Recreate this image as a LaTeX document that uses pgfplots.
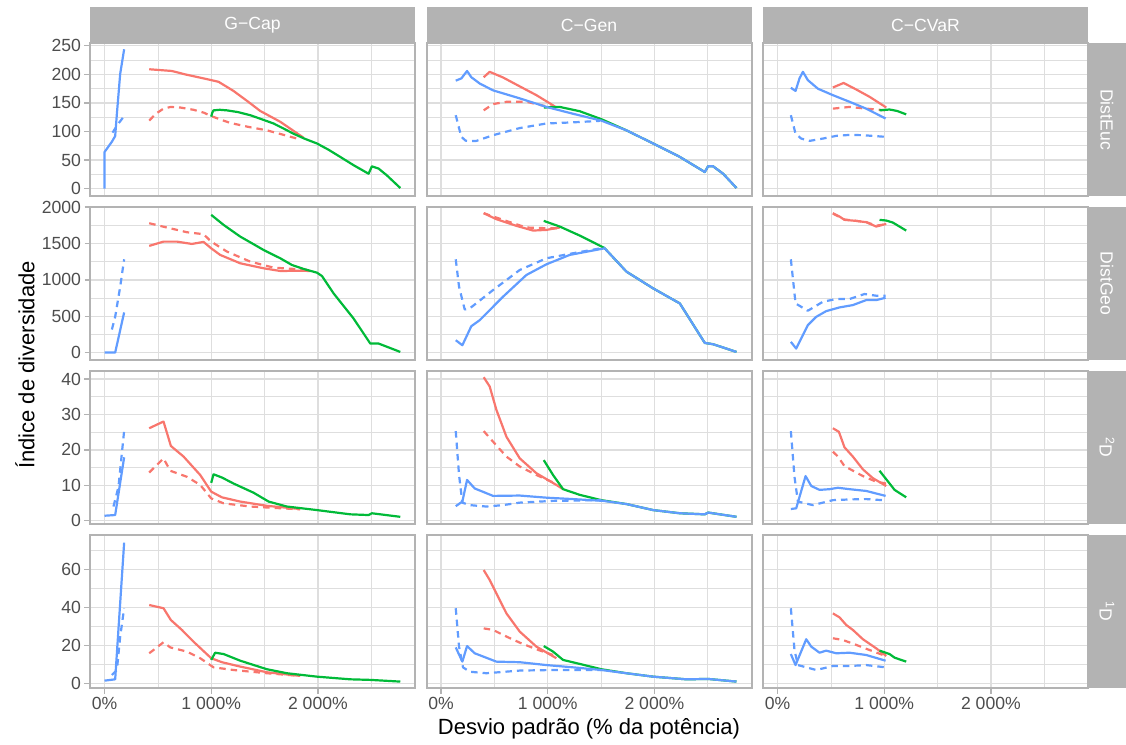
\documentclass[border=0pt]{standalone}
\usepackage{pgfplots}
\pgfplotsset{compat=1.18}
\usepackage{fontspec}
\setmainfont{Liberation Sans}

\definecolor{gA}{HTML}{F8766D}
\definecolor{gB}{HTML}{00BA38}
\definecolor{gC}{HTML}{619CFF}
\definecolor{grid87}{HTML}{DEDEDE}
\definecolor{grey70}{HTML}{B3B3B3}
\definecolor{grey30}{HTML}{4D4D4D}

\pgfplotsset{
  facet/.style={
    scale only axis, width=325pt, height=153pt, anchor=south west,
    xmin=-136, xmax=2910,
    xtick={0,1000,2000}, minor xtick={500,1500,2500},
    xticklabels={0\%,1 000\%,2 000\%},
    grid=both,
    major grid style={draw=grid87, line width=1.3pt},
    minor grid style={draw=grid87, line width=0.7pt},
    axis line style={draw=grey70, line width=2pt},
    tick align=outside, tick pos=left,
    major tick length=5.5pt, minor tick length=0pt,
    tick style={draw=grey70, line width=1.3pt},
    ticklabel style={font=\fontsize{17.6}{20}\selectfont, text=grey30},
    /pgf/number format/assume math mode=true,
    /pgf/number format/1000 sep={},
    every axis plot/.append style={line width=2.2pt, line join=round, line cap=butt},
  },
  noxt/.style={xticklabels={}, xtick style={draw=none}},
  noyt/.style={yticklabels={}, ytick style={draw=none}},
  rowA/.style={ymin=-13, ymax=255, ytick={0,50,...,250}, minor ytick={25,75,...,225}},
  rowB/.style={ymin=-102, ymax=2002, ytick={0,500,...,2000}, minor ytick={250,750,...,1750}},
  rowC/.style={ymin=-0.93, ymax=42.26, ytick={0,10,...,40}, minor ytick={5,15,...,35}},
  rowD/.style={ymin=-2.47, ymax=78.05, ytick={0,20,...,60}, minor ytick={10,30,...,70}},
  rs/.style={draw=gA},
  rd/.style={draw=gA, dash pattern=on 6.5pt off 5pt},
  gs/.style={draw=gB},
  bs/.style={draw=gC},
  bd/.style={draw=gC, dash pattern=on 6.5pt off 5pt},
}

\begin{document}
\begin{tikzpicture}[x=1pt,y=1pt]
\useasboundingbox (0,0) rectangle (1126,744);

% ---------------- row 1: DistEuc ----------------
\begin{axis}[facet, rowA, noxt, at={(90pt,548pt)}]
\addplot[rs] coordinates {(419,209)(631,206)(756,200)(928,193)(1000,190)(1069,187)(1209,171)(1340,153)(1459,136)(1647,117)(1866,89)};
\addplot[rd] coordinates {(419,119)(480,131)(553,140)(620,143)(709,142)(834,138)(930,133)(1000,127)(1100,120)(1178,115)(1350,108)(1522,102)(1700,93)(1834,86)};
\addplot[gs] coordinates {(1000,126)(1010,133)(1022,137)(1080,138)(1147,137)(1250,134)(1366,128.5)(1480,121)(1584,114)(1680,105)(1772,96)(1880,87)(1991,79)(2100,68)(2209,55.5)(2334,41)(2475,26)(2506,39)(2569,35)(2647,23)(2772,1)};
\addplot[bs] coordinates {(0,0)(0,64)(69,82)(100,92)(116,131)(147,201)(184,244)};
\addplot[bd] coordinates {(75,98)(131,114)(184,127)};
\end{axis}

\begin{axis}[facet, rowA, noxt, noyt, at={(426.5pt,548pt)}]
\addplot[rs] coordinates {(400,195)(456,204.5)(581,194.6)(738,179)(894,163.6)(1066,144)};
\addplot[rd] coordinates {(400,137)(488,148)(613,152)(800,152)(988,144)(1081,143)};
\addplot[gs] coordinates {(963,142)(1113,143)(1300,135.5)(1503,121.5)(1738,102)(1988,79)(2238,55.5)(2472,29)(2503,39)(2550,39)(2644,26)(2769,1)};
\addplot[bs] coordinates {(138,189)(191,193)(244,206)(284,195)(363,184)(488,172)(738,158)(988,143)(1238,131)(1503,119)(1738,102)(1988,79)(2238,55.5)(2472,29)(2503,39)(2550,39)(2644,26)(2769,1)};
\addplot[bd] coordinates {(138,128.5)(170,105)(191,90.6)(230,84)(269,83)(331,83.5)(488,93.5)(738,106)(988,114)(1238,116)(1488,118.6)};
\end{axis}

\begin{axis}[facet, rowA, noxt, noyt, at={(763pt,548pt)}]
\addplot[rs] coordinates {(519,177)(619,185)(738,173.5)(863,160.7)(1019,142)};
\addplot[rd] coordinates {(519,140)(675,143)(831,140)(1019,137)};
\addplot[gs] coordinates {(956,137)(1050,138.5)(1120,136)(1206,130)};
\addplot[bs] coordinates {(125,176.5)(169,171)(206,193)(238,204.5)(284,190)(378,175)(519,163.6)(675,152)(831,140)(1013,122.7)};
\addplot[bd] coordinates {(125,128.5)(150,110)(169,96)(222,87.6)(300,83.5)(425,87.6)(550,92.3)(675,94)(800,93.5)(1013,90.6)};
\end{axis}

% ---------------- row 2: DistGeo ----------------
\begin{axis}[facet, rowB, noxt, at={(90pt,384pt)}]
\addplot[rs] coordinates {(419,1467)(553,1526)(678,1526)(819,1494)(928,1522)(1000,1434)(1084,1343)(1272,1228)(1491,1159)(1647,1122)(1866,1126)(1930,1120)};
\addplot[rd] coordinates {(419,1779)(584,1720)(772,1655)(928,1628)(1000,1526)(1147,1389)(1366,1251)(1584,1168)(1928,1136)};
\addplot[gs] coordinates {(1000,1894)(1116,1756)(1272,1595)(1491,1411)(1647,1297)(1756,1205)(1866,1150)(1991,1099)(2038,1053)(2147,814)(2334,469)(2491,124)(2569,124)(2772,9)};
\addplot[bs] coordinates {(0,0)(100,0)(184,552)};
\addplot[bd] coordinates {(69,317)(100,492)(147,906)(184,1283)};
\end{axis}

\begin{axis}[facet, rowB, noxt, noyt, at={(426.5pt,384pt)}]
\addplot[rs] coordinates {(400,1917)(519,1834)(706,1743)(863,1678)(988,1687)(1113,1720)};
\addplot[rd] coordinates {(400,1917)(581,1825)(800,1720)(988,1710)(1113,1710)};
\addplot[gs] coordinates {(963,1811)(1113,1733)(1300,1609)(1519,1448)(1534,1434)(1738,1113)(1988,883)(2238,676)(2472,133)(2550,115)(2769,9)};
\addplot[bs] coordinates {(138,170)(200,101)(284,363)(363,446)(581,768)(800,1067)(988,1214)(1206,1343)(1534,1434)(1738,1113)(1988,883)(2238,676)(2472,133)(2550,115)(2769,9)};
\addplot[bd] coordinates {(138,1283)(169,906)(222,593)(269,607)(488,860)(738,1136)(988,1297)(1238,1366)(1534,1444)};
\end{axis}

\begin{axis}[facet, rowB, noxt, noyt, at={(763pt,384pt)}]
\addplot[rs] coordinates {(519,1917)(581,1871)(628,1825)(738,1811)(831,1793)(925,1733)(1019,1770)};
\addplot[rd] coordinates {(519,1910)(628,1830)(831,1795)(925,1745)(1019,1765)};
\addplot[gs] coordinates {(956,1825)(1019,1816)(1081,1788)(1206,1678)};
\addplot[bs] coordinates {(125,147)(175,55)(284,377)(363,492)(456,570)(581,621)(706,653)(831,722)(925,722)(1013,754)};
\addplot[bd] coordinates {(125,1283)(169,676)(284,575)(425,699)(550,736)(675,736)(816,805)(925,782)(1013,782)};
\end{axis}

% ---------------- row 3: 2D ----------------
\begin{axis}[facet, rowC, noxt, at={(90pt,220pt)}]
\addplot[rs] coordinates {(419,26.1)(553,28)(622,21.1)(741,18.1)(897,12.9)(1000,8.2)(1100,6.6)(1272,5.4)(1522,4.2)(1834,3.3)};
\addplot[rd] coordinates {(419,13.6)(553,17.6)(616,14.1)(772,12.4)(897,10.1)(1000,6.3)(1116,4.9)(1366,4.0)(1834,3.2)};
\addplot[gs] coordinates {(1000,10.7)(1022,13.1)(1100,12.2)(1209,10.5)(1397,7.9)(1538,5.4)(1709,4.0)(1991,3.0)(2303,1.8)(2475,1.6)(2506,2.1)(2772,1.1)};
\addplot[bs] coordinates {(0,1.4)(100,1.6)(184,17.9)};
\addplot[bd] coordinates {(84,4)(131,9.6)(184,25.4)};
\end{axis}

\begin{axis}[facet, rowC, noxt, noyt, at={(426.5pt,220pt)}]
\addplot[rs] coordinates {(400,40.5)(456,37.9)(519,31.3)(613,23.7)(738,17.6)(894,13.4)(1081,10.1)(1144,8.9)};
\addplot[rd] coordinates {(400,25.3)(488,22.3)(613,18.1)(738,15.3)(894,12.9)(1081,10.4)};
\addplot[gs] coordinates {(963,17.1)(1050,12.9)(1144,8.9)(1300,7.3)(1503,5.8)(1738,4.7)(1988,3.0)(2238,2.1)(2472,1.8)(2503,2.3)(2769,1.1)};
\addplot[bs] coordinates {(138,4.1)(200,5.4)(244,11.5)(316,9.1)(488,7.0)(738,7.1)(988,6.5)(1238,6.1)(1519,5.6)(1738,4.7)(1988,3.0)(2238,2.1)(2472,1.8)(2503,2.3)(2769,1.1)};
\addplot[bd] coordinates {(138,25.3)(169,12.9)(200,5.1)(269,4.4)(425,4.0)(581,4.4)(738,5.1)(1050,5.6)(1503,5.8)};
\end{axis}

\begin{axis}[facet, rowC, noxt, noyt, at={(763pt,220pt)}]
\addplot[rs] coordinates {(519,26.1)(575,25.1)(628,20.7)(706,18.1)(800,14.5)(894,12.0)(1019,9.8)};
\addplot[rd] coordinates {(519,19.5)(566,18.1)(628,15.4)(800,12.6)(925,11.0)(1019,10.5)};
\addplot[gs] coordinates {(956,14.1)(1019,11.7)(1097,8.7)(1206,6.6)};
\addplot[bs] coordinates {(125,3.3)(175,3.5)(263,12.6)(316,9.8)(394,8.7)(488,8.9)(566,9.3)(675,8.9)(831,8.4)(1013,7.0)};
\addplot[bd] coordinates {(125,25.3)(159,12.4)(191,5.4)(331,4.4)(519,5.8)(675,6.0)(831,6.1)(988,5.8)};
\end{axis}

% ---------------- row 4: 1D ----------------
\begin{axis}[facet, rowD, at={(90pt,56pt)}]
\addplot[rs] coordinates {(419,41.2)(553,39.5)(622,33.3)(725,28.1)(834,21.9)(1000,13.2)(1100,11.1)(1272,8.8)(1522,5.8)(1834,3.9)};
\addplot[rd] coordinates {(419,15.8)(553,21.6)(616,18.9)(772,16.7)(897,13.2)(1022,8.4)(1209,7.0)(1522,5.3)(1834,3.9)};
\addplot[gs] coordinates {(1000,12.3)(1037,16.1)(1116,15.4)(1272,11.9)(1522,7.4)(1709,5.3)(1991,3.5)(2303,2.1)(2491,1.8)(2772,0.9)};
\addplot[bs] coordinates {(0,1.4)(100,2.1)(184,74)};
\addplot[bd] coordinates {(69,4.4)(116,7.0)(147,24.6)(184,39.5)};
\end{axis}

\begin{axis}[facet, rowD, noyt, at={(426.5pt,56pt)}]
\addplot[rs] coordinates {(400,59.6)(456,54.4)(613,36.8)(738,27.2)(894,19.3)(1081,13.2)};
\addplot[rd] coordinates {(400,28.9)(488,28.1)(613,24.6)(738,21.4)(894,17.9)(1050,14.9)};
\addplot[gs] coordinates {(963,19.6)(1050,16.7)(1144,12.3)(1300,10.2)(1503,7.4)(1738,5.3)(1988,3.5)(2300,2.1)(2503,2.3)(2769,0.9)};
\addplot[bs] coordinates {(138,18.9)(200,11.4)(244,19.6)(316,15.8)(519,11.4)(738,11.1)(988,9.6)(1238,8.4)(1503,7.0)(1738,5.3)(1988,3.5)(2300,2.1)(2503,2.3)(2769,0.9)};
\addplot[bd] coordinates {(138,39.5)(169,19.3)(206,8.4)(269,6.1)(425,5.3)(738,6.7)(1050,7.0)(1503,7.0)};
\end{axis}

\begin{axis}[facet, rowD, noyt, at={(763pt,56pt)}]
\addplot[rs] coordinates {(519,36.8)(581,34.7)(644,30.7)(706,28.1)(800,23.2)(925,18.4)(1019,14.4)};
\addplot[rd] coordinates {(519,23.7)(613,22.8)(738,20.2)(863,17.5)(988,14.9)};
\addplot[gs] coordinates {(956,17.2)(1050,15.4)(1097,13.5)(1206,11.4)};
\addplot[bs] coordinates {(125,15.4)(169,9.6)(269,23.2)(316,19.3)(394,16.1)(456,17.2)(550,15.8)(675,16.1)(831,14.9)(1013,11.9)};
\addplot[bd] coordinates {(125,39.5)(159,17.5)(191,9.6)(363,7.0)(519,9.1)(675,9.1)(831,9.6)(1013,8.4)};
\end{axis}

% ---------------- facet strips ----------------
\begin{scope}[every node/.style={text=white, font=\fontsize{17.6}{20}\selectfont}]
\fill[grey70] (90,701) rectangle (415,737);
\node at (252.5,719) {G−Cap};
\fill[grey70] (426.5,701) rectangle (751.5,737);
\node at (589,719) {C−Gen};
\fill[grey70] (763,701) rectangle (1088,737);
\node at (925.5,719) {C−CVaR};

\fill[grey70] (1088,548) rectangle (1126,701);
\node[rotate=-90] at (1107,624.5) {DistEuc};
\fill[grey70] (1088,384) rectangle (1126,537);
\node[rotate=-90] at (1107,460.5) {DistGeo};
\fill[grey70] (1088,220) rectangle (1126,373);
\node[rotate=-90] at (1107,296.5) {\textsuperscript{2}D};
\fill[grey70] (1088,56) rectangle (1126,209);
\node[rotate=-90] at (1107,132.5) {\textsuperscript{1}D};
\end{scope}

% ---------------- axis titles ----------------
\node[rotate=90, font=\fontsize{22}{24}\selectfont] at (25,379) {Índice de diversidade};
\node[font=\fontsize{22}{24}\selectfont] at (589,15) {Desvio padrão (\% da potência)};
\end{tikzpicture}
\end{document}
